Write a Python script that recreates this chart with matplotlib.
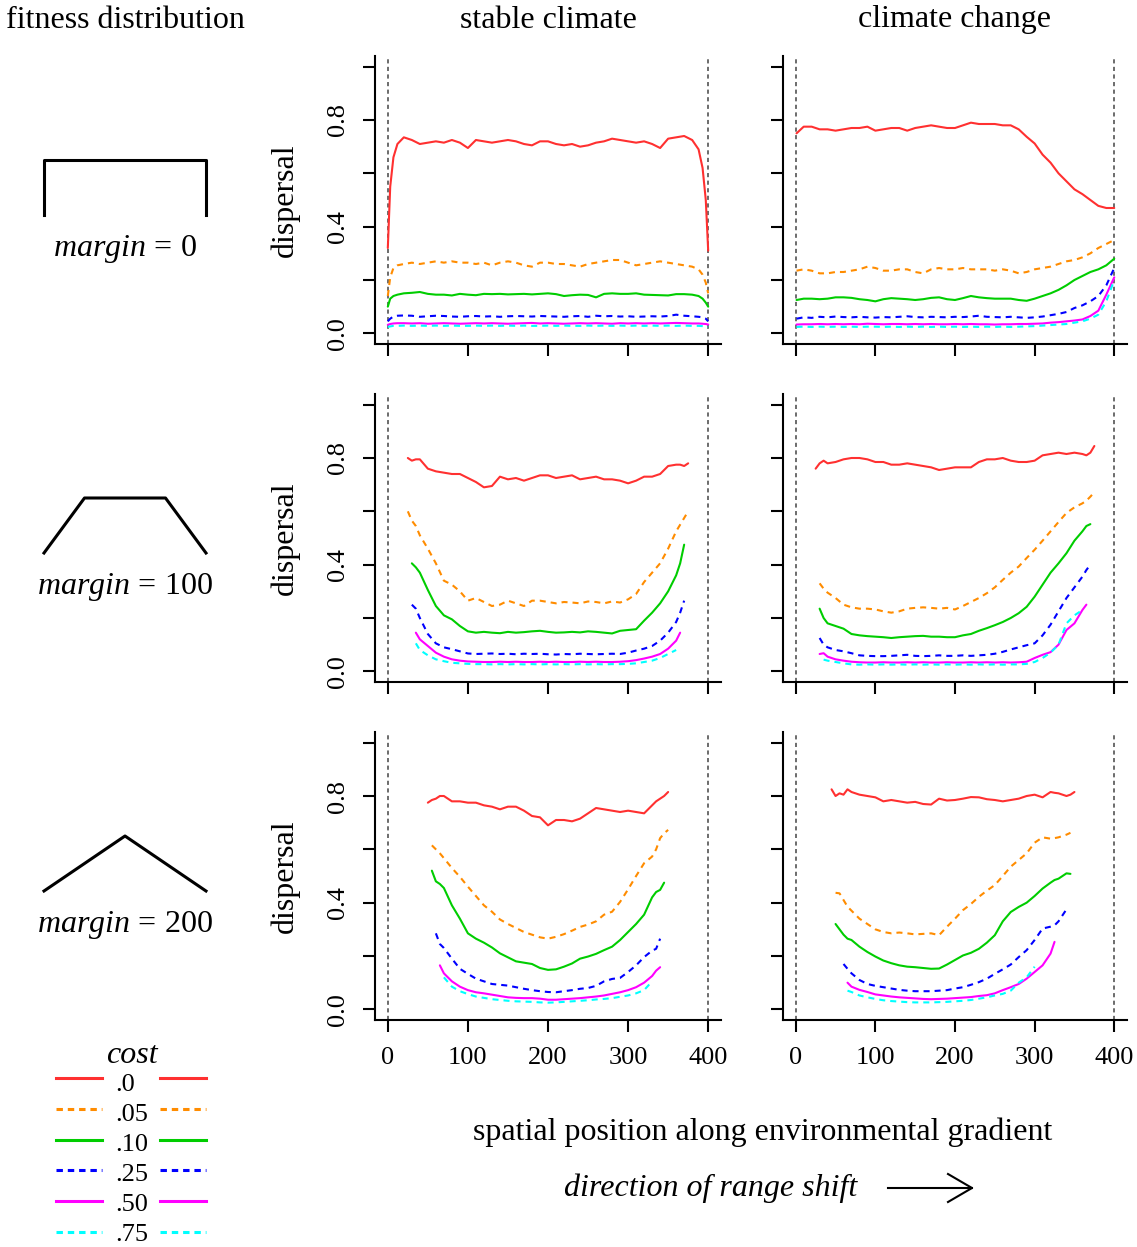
import matplotlib
matplotlib.use("Agg")
import matplotlib.pyplot as plt
import numpy as np

plt.rcParams['font.family'] = ['Liberation Serif', 'DejaVu Serif']
plt.rcParams['mathtext.fontset'] = 'custom'
plt.rcParams['mathtext.rm'] = 'Liberation Serif'
plt.rcParams['mathtext.it'] = 'Liberation Serif:italic'

N = None

# легенда: стоимость расселения
cost_labels = [".0", ".05", ".10", ".25", ".50", ".75"]
cost_colors = ['#FF3030', '#FF8C00', '#00CD00', '#0000FF', '#FF00FF', '#00FFFF']
cost_dashed = [False, True, False, True, False, True]
margins = [0, 100, 200]
col_titles = ["stable climate", "climate change"]
xtick_vals = [0, 100, 200, 300, 400]
ytick_vals = [0.0, 0.2, 0.4, 0.6, 0.8, 1.0]
ytick_text = ["0.0", "", "0.4", "", "0.8", ""]

# --- панель A: stable climate, margin 0 ---
x_a = [0, 3, 7, 12] + list(range(20, 390, 10)) + [388, 393, 397, 400]
red_a = [0.32, 0.55, 0.66, 0.71,
         0.735, 0.725, 0.71, 0.715, 0.72, 0.715, 0.725, 0.715, 0.695, 0.725,
         0.72, 0.715, 0.72, 0.725, 0.72, 0.71, 0.705, 0.72, 0.72, 0.71,
         0.705, 0.71, 0.70, 0.705, 0.715, 0.72, 0.73, 0.725, 0.72, 0.715,
         0.72, 0.71, 0.695, 0.73, 0.735, 0.74, 0.725,
         0.69, 0.62, 0.50, 0.31]
orange_a = [0.14, 0.21, 0.245, 0.255,
            0.26, 0.265, 0.26, 0.265, 0.27, 0.265, 0.27, 0.265, 0.265, 0.26,
            0.265, 0.255, 0.265, 0.27, 0.265, 0.255, 0.25, 0.265, 0.265, 0.26,
            0.26, 0.255, 0.25, 0.26, 0.265, 0.27, 0.275, 0.275, 0.265, 0.255,
            0.26, 0.265, 0.27, 0.265, 0.26, 0.255, 0.25,
            0.24, 0.22, 0.19, 0.15]
green_a = [0.10, 0.13, 0.14, 0.145,
           0.15, 0.152, 0.155, 0.148, 0.145, 0.145, 0.142, 0.148, 0.145, 0.143,
           0.148, 0.147, 0.148, 0.146, 0.147, 0.148, 0.146, 0.148, 0.15, 0.147,
           0.14, 0.143, 0.145, 0.144, 0.135, 0.148, 0.15, 0.148, 0.148, 0.15,
           0.145, 0.144, 0.143, 0.142, 0.147, 0.147, 0.145,
           0.14, 0.13, 0.115, 0.10]
blue_a = [0.045, 0.055, 0.063, 0.066,
          0.067, 0.066, 0.062, 0.064, 0.066, 0.065, 0.063, 0.062, 0.064, 0.065,
          0.063, 0.064, 0.062, 0.064, 0.065, 0.064, 0.063, 0.065, 0.064, 0.063,
          0.062, 0.064, 0.065, 0.062, 0.066, 0.064, 0.065, 0.063, 0.064, 0.062,
          0.063, 0.064, 0.063, 0.065, 0.07, 0.066, 0.064,
          0.062, 0.06, 0.055, 0.045]
magenta_a = [0.032, 0.035, 0.037, 0.038,
             0.038, 0.037, 0.038, 0.036, 0.037, 0.038, 0.037, 0.036, 0.037, 0.038,
             0.037, 0.038, 0.037, 0.036, 0.037, 0.038, 0.039, 0.037, 0.038, 0.037,
             0.036, 0.037, 0.038, 0.037, 0.038, 0.037, 0.036, 0.038, 0.037, 0.038,
             0.037, 0.038, 0.037, 0.038, 0.039, 0.038, 0.037,
             0.037, 0.036, 0.035, 0.033]
cyan_a = [0.024, 0.026, 0.028, 0.028,
          0.029, 0.028, 0.029, 0.028, 0.029, 0.028, 0.029, 0.028, 0.028, 0.029,
          0.028, 0.029, 0.028, 0.029, 0.028, 0.029, 0.028, 0.028, 0.029, 0.028,
          0.029, 0.028, 0.028, 0.029, 0.028, 0.029, 0.028, 0.029, 0.028, 0.029,
          0.028, 0.029, 0.028, 0.029, 0.028, 0.029, 0.028,
          0.028, 0.027, 0.026, 0.024]

# --- панель B: climate change, margin 0 ---
x_b = [1] + list(range(10, 410, 10))
red_b = [0.75,
         0.775, 0.775, 0.765, 0.765, 0.76, 0.765, 0.77, 0.77, 0.775, 0.76,
         0.765, 0.77, 0.77, 0.76, 0.77, 0.775, 0.78, 0.775, 0.77, 0.77,
         0.78, 0.79, 0.785, 0.785, 0.785, 0.78, 0.78, 0.765, 0.737, 0.712,
         0.67, 0.64, 0.60, 0.57, 0.54, 0.522, 0.50, 0.478, 0.47, 0.47]
orange_b = [0.235,
            0.24, 0.235, 0.225, 0.225, 0.23, 0.23, 0.235, 0.24, 0.25, 0.245,
            0.235, 0.235, 0.24, 0.24, 0.23, 0.225, 0.24, 0.245, 0.24, 0.24,
            0.245, 0.24, 0.24, 0.24, 0.235, 0.24, 0.235, 0.225, 0.23, 0.24,
            0.245, 0.25, 0.26, 0.27, 0.275, 0.285, 0.30, 0.32, 0.335, 0.35]
green_b = [0.125,
           0.13, 0.13, 0.128, 0.13, 0.135, 0.135, 0.133, 0.128, 0.125, 0.12,
           0.128, 0.132, 0.13, 0.128, 0.125, 0.128, 0.133, 0.135, 0.128, 0.125,
           0.132, 0.14, 0.135, 0.132, 0.13, 0.13, 0.13, 0.125, 0.122, 0.13,
           0.14, 0.15, 0.163, 0.18, 0.20, 0.215, 0.23, 0.24, 0.255, 0.28]
blue_b = [0.055,
          0.06, 0.058, 0.062, 0.06, 0.063, 0.061, 0.06, 0.062, 0.06, 0.059,
          0.061, 0.06, 0.062, 0.064, 0.061, 0.06, 0.062, 0.061, 0.06, 0.062,
          0.061, 0.063, 0.066, 0.062, 0.061, 0.06, 0.062, 0.06, 0.058, 0.06,
          0.063, 0.068, 0.073, 0.08, 0.095, 0.105, 0.12, 0.14, 0.18, 0.245]
magenta_b = [0.033,
             0.034, 0.034, 0.035, 0.034, 0.035, 0.034, 0.035, 0.034, 0.036, 0.035,
             0.034, 0.035, 0.035, 0.034, 0.035, 0.034, 0.035, 0.034, 0.034, 0.035,
             0.034, 0.035, 0.034, 0.034, 0.033, 0.034, 0.034, 0.035, 0.035, 0.036,
             0.037, 0.04, 0.042, 0.045, 0.048, 0.052, 0.065, 0.085, 0.145, 0.21]
cyan_b = [0.024,
          0.025, 0.024, 0.025, 0.024, 0.025, 0.024, 0.025, 0.024, 0.025, 0.025,
          0.024, 0.025, 0.024, 0.025, 0.024, 0.025, 0.024, 0.025, 0.024, 0.025,
          0.024, 0.025, 0.024, 0.025, 0.024, 0.025, 0.024, 0.025, 0.026, 0.027,
          0.029, 0.031, 0.033, 0.035, 0.04, 0.045, 0.055, 0.07, 0.12, 0.20]

# --- панели C, D: margin 100 ---
x_c = [25, 30, 35, 40] + list(range(50, 370, 10)) + [365, 370, 375]
red_c = [0.80, 0.79, 0.795, 0.795,
         0.76, 0.75, 0.745, 0.74, 0.74, 0.725, 0.71, 0.69, 0.695, 0.73,
         0.72, 0.725, 0.715, 0.725, 0.735, 0.735, 0.725, 0.73, 0.735, 0.72,
         0.725, 0.73, 0.72, 0.72, 0.715, 0.705, 0.715, 0.73, 0.73, 0.74,
         0.77, 0.775,
         0.775, 0.77, 0.78]
orange_c = [0.60, 0.565, 0.545, 0.51,
            0.46, 0.405, 0.34, 0.325, 0.30, 0.265, 0.275, 0.26, 0.245, 0.25,
            0.265, 0.255, 0.245, 0.265, 0.265, 0.26, 0.255, 0.26, 0.258, 0.255,
            0.262, 0.26, 0.255, 0.262, 0.258, 0.27, 0.29, 0.335, 0.37, 0.405,
            0.46, 0.525,
            0.55, 0.575, 0.60]
green_c = [N, 0.405, 0.39, 0.37,
           0.305, 0.245, 0.21, 0.195, 0.17, 0.15, 0.145, 0.148, 0.145, 0.143,
           0.148, 0.145, 0.147, 0.15, 0.152, 0.148, 0.145, 0.146, 0.148, 0.146,
           0.15, 0.148, 0.145, 0.142, 0.152, 0.155, 0.158, 0.19, 0.22, 0.255,
           0.30, 0.36,
           0.405, 0.475, N]
blue_c = [N, 0.25, 0.235, 0.20,
          0.14, 0.105, 0.09, 0.083, 0.075, 0.067, 0.065, 0.066, 0.067, 0.065,
          0.066, 0.064, 0.066, 0.065, 0.066, 0.064, 0.063, 0.065, 0.064, 0.066,
          0.065, 0.064, 0.065, 0.066, 0.065, 0.07, 0.078, 0.085, 0.095, 0.115,
          0.145, 0.185,
          0.22, 0.265, N]
magenta_c = [N, N, 0.145, 0.12,
             0.095, 0.07, 0.055, 0.045, 0.04, 0.037, 0.036, 0.035, 0.035, 0.036,
             0.035, 0.036, 0.035, 0.035, 0.036, 0.035, 0.036, 0.035, 0.035, 0.036,
             0.035, 0.036, 0.035, 0.035, 0.036, 0.038, 0.042, 0.048, 0.055, 0.065,
             0.085, 0.115,
             0.145, N, N]
cyan_c = [N, N, 0.105, 0.08,
          0.06, 0.045, 0.038, 0.032, 0.03, 0.028, 0.027, 0.027, 0.026, 0.027,
          0.026, 0.027, 0.026, 0.027, 0.026, 0.027, 0.026, 0.027, 0.026, 0.027,
          0.026, 0.027, 0.026, 0.027, 0.027, 0.028, 0.03, 0.035, 0.04, 0.05,
          0.065, 0.08,
          N, N, N]

x_d = [25, 30, 35, 40] + list(range(50, 370, 10)) + [365, 370, 375]
red_d = [0.76, 0.78, 0.79, 0.78,
         0.785, 0.795, 0.80, 0.80, 0.795, 0.785, 0.785, 0.775, 0.775, 0.78,
         0.775, 0.77, 0.765, 0.755, 0.76, 0.765, 0.765, 0.765, 0.785, 0.795,
         0.795, 0.80, 0.79, 0.785, 0.785, 0.79, 0.81, 0.815, 0.82, 0.815,
         0.82, 0.815,
         0.81, 0.82, 0.845]
orange_d = [N, 0.33, 0.31, 0.295,
            0.275, 0.25, 0.24, 0.235, 0.235, 0.232, 0.225, 0.22, 0.225, 0.235,
            0.238, 0.24, 0.238, 0.235, 0.238, 0.232, 0.245, 0.26, 0.275, 0.293,
            0.315, 0.343, 0.37, 0.393, 0.425, 0.456, 0.49, 0.525, 0.56, 0.594,
            0.615, 0.63,
            0.64, 0.655, 0.672]
green_d = [N, 0.235, 0.20, 0.18,
           0.17, 0.16, 0.14, 0.135, 0.132, 0.13, 0.128, 0.125, 0.128, 0.13,
           0.132, 0.133, 0.13, 0.13, 0.128, 0.128, 0.135, 0.14, 0.152, 0.162,
           0.173, 0.185, 0.20, 0.218, 0.242, 0.28, 0.325, 0.37, 0.405, 0.443,
           0.49, 0.525,
           0.545, 0.552, N]
blue_d = [N, 0.125, 0.10, 0.09,
          0.08, 0.075, 0.068, 0.06, 0.058, 0.057, 0.057, 0.058, 0.06, 0.062,
          0.058, 0.057, 0.058, 0.06, 0.058, 0.058, 0.06, 0.058, 0.06, 0.062,
          0.066, 0.073, 0.082, 0.09, 0.098, 0.105, 0.135, 0.175, 0.225, 0.275,
          0.315, 0.355,
          0.38, 0.40, N]
magenta_d = [N, 0.065, 0.068, 0.055,
             0.045, 0.04, 0.036, 0.034, 0.033, 0.033, 0.034, 0.033, 0.033, 0.034,
             0.033, 0.034, 0.033, 0.033, 0.034, 0.033, 0.033, 0.034, 0.033, 0.034,
             0.033, 0.034, 0.033, 0.034, 0.036, 0.05, 0.062, 0.072, 0.10, 0.155,
             0.18, 0.23,
             0.25, N, N]
cyan_d = [N, N, 0.044, 0.04,
          0.035, 0.03, 0.026, 0.025, 0.026, 0.025, 0.026, 0.025, 0.026, 0.025,
          0.026, 0.025, 0.026, 0.025, 0.026, 0.025, 0.026, 0.025, 0.026, 0.025,
          0.026, 0.025, 0.026, 0.026, 0.028, 0.035, 0.05, 0.07, 0.10, 0.18,
          0.21, 0.23,
          N, N, N]

# --- панели E, F: margin 200 ---
x_e = [50, 55, 60, 65, 70] + list(range(80, 340, 10)) + [335, 340, 345, 350]
red_e = [0.775, 0.785, 0.79, 0.80, 0.80,
         0.78, 0.78, 0.775, 0.775, 0.765, 0.76, 0.75, 0.76, 0.76, 0.745,
         0.725, 0.72, 0.69, 0.71, 0.71, 0.705, 0.715, 0.735, 0.755, 0.75,
         0.745, 0.74, 0.745, 0.74, 0.735, 0.765,
         0.78, 0.79, 0.80, 0.815]
orange_e = [N, 0.615, 0.60, 0.585, 0.567,
            0.53, 0.497, 0.46, 0.425, 0.39, 0.366, 0.337, 0.32, 0.305, 0.29,
            0.28, 0.27, 0.265, 0.272, 0.282, 0.295, 0.309, 0.318, 0.33, 0.355,
            0.366, 0.403, 0.45, 0.50, 0.548, 0.573,
            0.60, 0.642, 0.66, 0.673]
green_e = [N, 0.52, 0.48, 0.47, 0.455,
           0.39, 0.34, 0.285, 0.265, 0.25, 0.232, 0.21, 0.195, 0.18, 0.175,
           0.17, 0.155, 0.148, 0.15, 0.16, 0.172, 0.19, 0.198, 0.208, 0.222,
           0.235, 0.26, 0.29, 0.32, 0.355, 0.42,
           0.44, 0.448, 0.475, N]
blue_e = [N, N, 0.285, 0.245, 0.23,
          0.19, 0.152, 0.133, 0.115, 0.105, 0.095, 0.092, 0.089, 0.083, 0.077,
          0.072, 0.068, 0.065, 0.064, 0.068, 0.072, 0.077, 0.08, 0.088, 0.105,
          0.114, 0.118, 0.14, 0.165, 0.196, 0.22,
          0.227, 0.265, N, N]
magenta_e = [N, N, N, 0.165, 0.135,
             0.105, 0.085, 0.072, 0.064, 0.06, 0.055, 0.05, 0.045, 0.043, 0.042,
             0.042, 0.04, 0.036, 0.036, 0.038, 0.04, 0.042, 0.045, 0.048, 0.052,
             0.058, 0.064, 0.072, 0.083, 0.10, 0.125,
             0.145, 0.158, N, N]
cyan_e = [N, N, N, N, 0.12,
          0.085, 0.068, 0.057, 0.048, 0.043, 0.038, 0.035, 0.032, 0.03, 0.029,
          0.028, 0.026, 0.025, 0.026, 0.028, 0.03, 0.032, 0.034, 0.037, 0.039,
          0.042, 0.047, 0.052, 0.06, 0.072, 0.105,
          N, N, N, N]

x_f = [45, 50, 55, 60, 65, 70] + list(range(80, 330, 10)) + [325, 330, 340, 345, 350]
red_f = [0.825, 0.80, 0.81, 0.805, 0.825, 0.815,
         0.805, 0.80, 0.795, 0.78, 0.785, 0.78, 0.775, 0.778, 0.77, 0.768,
         0.79, 0.783, 0.785, 0.79, 0.796, 0.795, 0.788, 0.785, 0.78, 0.785,
         0.79, 0.80, 0.805, 0.795, 0.815,
         0.812, 0.81, 0.80, 0.805, 0.815]
orange_f = [N, 0.437, 0.435, 0.41, 0.385, 0.37,
            0.34, 0.32, 0.30, 0.29, 0.285, 0.288, 0.285, 0.281, 0.283, 0.285,
            0.278, 0.31, 0.34, 0.372, 0.395, 0.422, 0.445, 0.466, 0.50, 0.535,
            0.56, 0.585, 0.625, 0.645, 0.64,
            0.642, 0.645, 0.655, 0.662, N]
green_f = [N, 0.32, 0.30, 0.28, 0.265, 0.26,
           0.235, 0.215, 0.198, 0.183, 0.173, 0.165, 0.16, 0.158, 0.155, 0.152,
           0.153, 0.168, 0.185, 0.202, 0.212, 0.227, 0.25, 0.278, 0.33, 0.365,
           0.384, 0.40, 0.425, 0.453, 0.475,
           0.485, 0.49, 0.51, 0.508, N]
blue_f = [N, N, N, 0.17, 0.152, 0.135,
          0.11, 0.095, 0.088, 0.083, 0.078, 0.073, 0.07, 0.068, 0.068, 0.068,
          0.07, 0.072, 0.078, 0.083, 0.092, 0.102, 0.115, 0.133, 0.15, 0.168,
          0.196, 0.222, 0.26, 0.303, 0.31,
          0.315, 0.33, 0.375, N, N]
magenta_f = [N, N, N, N, 0.10, 0.085,
             0.073, 0.065, 0.056, 0.052, 0.048, 0.045, 0.043, 0.041, 0.039, 0.038,
             0.039, 0.04, 0.042, 0.044, 0.046, 0.05, 0.053, 0.06, 0.072, 0.083,
             0.095, 0.115, 0.14, 0.165, 0.209,
             0.253, N, N, N, N]
cyan_f = [N, N, N, N, 0.07, 0.065,
          0.052, 0.045, 0.039, 0.034, 0.031, 0.029, 0.027, 0.026, 0.026, 0.026,
          0.027, 0.028, 0.03, 0.032, 0.035, 0.04, 0.045, 0.052, 0.058, 0.07,
          0.10, 0.12, 0.16, N, N,
          N, N, N, N, N]

panels = [
    [(x_a, [red_a, orange_a, green_a, blue_a, magenta_a, cyan_a]),
     (x_b, [red_b, orange_b, green_b, blue_b, magenta_b, cyan_b])],
    [(x_c, [red_c, orange_c, green_c, blue_c, magenta_c, cyan_c]),
     (x_d, [red_d, orange_d, green_d, blue_d, magenta_d, cyan_d])],
    [(x_e, [red_e, orange_e, green_e, blue_e, magenta_e, cyan_e]),
     (x_f, [red_f, orange_f, green_f, blue_f, magenta_f, cyan_f])],
]

# --- разметка в пикселях ---
W, H = 1137, 1247
fig = plt.figure(figsize=(W / 100, H / 100), dpi=100)


def px_axes(x0, y0, w, h, **kw):
    return fig.add_axes([x0 / W, 1 - (y0 + h) / H, w / W, h / H], **kw)


col_x = [375, 783]
col_w = [346, 344]
row_y = [56, 394, 732]
row_h = 288
row_step = 338

for r in range(3):
    for c in range(2):
        x, series = panels[r][c]
        ax = px_axes(col_x[c], row_y[r], col_w[c], row_h)
        ax.set_facecolor('none')
        for xv in (0, 400):
            ax.axvline(xv, color='#606060', lw=1.3, dashes=(2.3, 1.9))
        for y, col, dashed in zip(series, cost_colors, cost_dashed):
            y = np.array(y, dtype=float)
            if dashed:
                ax.plot(x, y, color=col, lw=1.5, dashes=(2.9, 2.4))
            else:
                ax.plot(x, y, color=col, lw=1.5, solid_capstyle='round')
        ax.set_xlim(-16, 416)
        ax.set_ylim(-0.04, 1.04)
        ax.set_xticks(xtick_vals)
        ax.set_xticklabels([str(v) for v in xtick_vals])
        ax.set_yticks(ytick_vals)
        ax.set_yticklabels(ytick_text, rotation=90, va='center')
        for s in ('top', 'right'):
            ax.spines[s].set_visible(False)
        for s in ('left', 'bottom'):
            ax.spines[s].set_linewidth(1.5)
        ax.tick_params(direction='out', length=8.6, width=1.5, labelsize=19)
        ax.tick_params(axis='x', pad=11)
        ax.tick_params(axis='y', pad=10)
        if c == 1:
            ax.tick_params(labelleft=False)
        if r < 2:
            ax.tick_params(labelbottom=False)

# схемы распределения приспособленности
for r, m in enumerate(margins):
    sa = px_axes(44, 160 + row_step * r, 162, 55)
    sa.plot([0, m, 400 - m, 400], [0, 1, 1, 0], color='k', lw=2.2,
            clip_on=False, solid_joinstyle='round')
    sa.set_xlim(0, 400)
    sa.set_ylim(0, 1)
    sa.axis('off')

# подписи, легенда, стрелка
ov = px_axes(0, 0, W, H, zorder=5)
ov.set_xlim(0, W)
ov.set_ylim(H, 0)
ov.axis('off')

ov.text(125, 20, "fitness distribution", ha='center', va='center', fontsize=23)
for c in range(2):
    ov.text(col_x[c] + col_w[c] / 2, 20, col_titles[c], ha='center',
            va='center', fontsize=23)
for r, m in enumerate(margins):
    ov.text(285, row_y[r] + row_h / 2, "dispersal", rotation=90, ha='center',
            va='center', fontsize=23)
    ov.text(125, 249 + row_step * r, rf"$margin\,=\,{m}$", ha='center',
            va='center', fontsize=23)

ov.text(132, 1063, "cost", style='italic', ha='center', va='baseline', fontsize=23)
for i, (lab, col, dashed) in enumerate(zip(cost_labels, cost_colors, cost_dashed)):
    yy = 1078 + 30.8 * i
    for xa, xb in [(56, 102), (160, 206)]:
        if dashed:
            ov.plot([xa, xb], [yy, yy], color=col, lw=2.2, dashes=(2.1, 1.6))
        else:
            ov.plot([xa, xb], [yy, yy], color=col, lw=2.2)
    ov.text(115, 1091 + 30 * i, lab, ha='left', va='baseline', fontsize=19)

ov.text(763, 1140, "spatial position along environmental gradient",
        ha='center', va='baseline', fontsize=23)
ov.text(711, 1196, "direction of range shift", style='italic',
        ha='center', va='baseline', fontsize=23)
ov.plot([888, 972], [1188, 1188], color='k', lw=1.5)
ov.plot([948, 972, 948], [1174, 1188, 1202], color='k', lw=1.5)

fig.savefig("out.png", dpi=100)
